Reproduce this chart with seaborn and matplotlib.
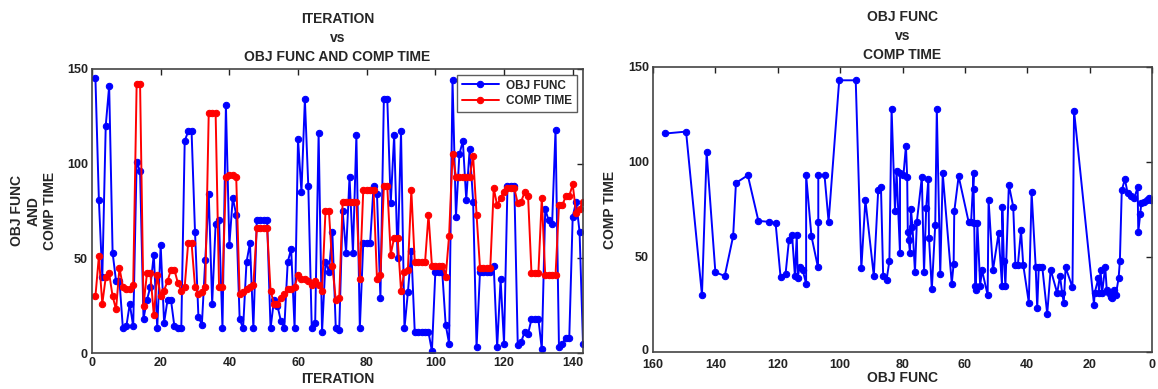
import numpy as np
import pandas as pd
import matplotlib
matplotlib.use("Agg")
import matplotlib.pyplot as plt
import matplotlib.transforms as mtransforms
import seaborn as sns

# ---------------- data ----------------
obj_func = [145, 81, 40, 120, 141, 53, 38, 38, 13, 14, 26, 14, 101, 96, 18, 28, 35, 52, 13, 57,
            16, 28, 28, 14, 13, 13, 112, 117, 117, 64, 19, 15, 49, 84, 26, 68, 70, 13, 131, 57,
            82, 73, 18, 13, 48, 58, 13, 70, 70, 70, 70, 13, 28, 25, 17, 13, 48, 55, 13, 113,
            85, 134, 88, 13, 16, 116, 11, 48, 43, 64, 13, 12, 75, 53, 93, 53, 115, 13, 58, 58,
            58, 88, 84, 29, 134, 134, 79, 115, 50, 117, 13, 32, 54, 11, 11, 11, 11, 11, 1, 43,
            43, 43, 15, 5, 144, 72, 105, 112, 81, 108, 80, 3, 43, 43, 43, 43, 46, 3, 39, 5,
            88, 88, 88, 4, 6, 11, 10, 18, 18, 18, 2, 76, 70, 68, 118, 3, 5, 8, 8, 72,
            80, 64, 5]
comp_time = [30, 51, 26, 40, 42, 30, 23, 45, 35, 34, 34, 36, 142, 142, 25, 42, 42, 20, 41, 30,
             33, 38, 44, 44, 37, 33, 35, 58, 58, 35, 31, 32, 35, 127, 127, 127, 35, 35, 93, 94,
             94, 93, 31, 32, 34, 35, 36, 66, 66, 66, 66, 33, 26, 26, 29, 31, 34, 34, 35, 41,
             39, 39, 38, 36, 38, 36, 33, 75, 75, 46, 28, 29, 80, 80, 80, 80, 80, 39, 86, 86,
             86, 86, 39, 41, 88, 88, 52, 61, 61, 33, 43, 44, 86, 48, 48, 48, 48, 73, 46, 46,
             46, 46, 40, 62, 105, 93, 93, 93, 93, 93, 104, 73, 45, 45, 45, 45, 87, 78, 82, 85,
             87, 87, 87, 79, 80, 85, 83, 42, 42, 42, 82, 41, 41, 41, 41, 78, 78, 83, 83, 89,
             74, 76, 80]
iteration = list(range(1, len(obj_func) + 1))

sorted_obj = [156, 149.4, 144.3, 142.8, 140, 137, 134.3, 133.4, 129.6, 126.2, 122.7, 120.7, 119.1,
              117.5, 116.4, 115.4, 114.5, 113.9, 113.6, 113, 112, 110.9, 110.9, 109.2, 107.1, 107,
              107, 105, 103.7, 100.3, 95, 93.2, 91.9, 89.2, 87.8, 86.9, 86.2, 85.1, 84.2, 83.5,
              82.4, 81.9, 80.8, 80.8, 79.7, 78.9, 78.5, 78.3, 78, 77.6, 77.3, 76.8, 76, 75.4,
              73.8, 73.1, 72.4, 71.7, 71.5, 70.6, 69.5, 69, 67.9, 67.1, 64.2, 63.6, 63.4, 62,
              58.8, 58, 57.2, 57.2, 57, 56.7, 56.5, 56, 55.1, 54.5, 52.7, 52.4, 51, 49.2, 48.1,
              48, 47.5, 47, 45.9, 44.5, 43.8, 43, 42, 41.3, 39.5, 38.6, 37.3, 36.8, 36.3, 35.2,
              33.6, 32.5, 30.4, 29.5, 28.8, 28.3, 27.7, 25.5, 25, 18.6, 18.4, 17.2, 17, 16.5, 16,
              15, 14.5, 13.7, 13.2, 12.7, 12.3, 11.6, 10.7, 10.3, 9.7, 8.7, 7.8, 6.8, 5.7, 4.6,
              4.4, 3.8, 3.4, 2.5, 1.7, 0.9, 0.3]
sorted_time = [115, 116, 30, 105, 42, 40, 61, 89, 93, 69, 68.5, 68, 39.5,
               41, 59, 61.5, 40, 61.5, 39, 45, 43, 36, 93, 61, 44.5, 68.5,
               93, 93, 68.5, 143, 143, 44, 80, 40, 85, 86.6, 40, 38, 48, 128,
               74, 95, 52, 94, 93, 108.5, 92, 63, 59, 52, 75.5, 66, 42, 68.5,
               92, 42, 76, 91, 60, 33, 67, 128, 41, 94, 36, 46.5, 74, 92.5,
               68.5, 68.5, 94, 86, 68, 34.6, 32.5, 68, 35, 43, 30, 80, 43, 62.4, 35,
               76.5, 48, 35, 88, 76.5, 46, 46, 64, 46, 26, 84, 45, 23, 45, 45,
               20, 43.4, 31, 40, 31, 26, 44.5, 34, 127, 25, 31, 38.7, 31, 43, 31,
               45, 32.5, 31, 29, 28.5, 32.5, 30, 39, 48, 85, 91, 83.5, 82, 81, 86.6,
               63, 72.6, 78.6, 79, 80, 81, 80]

left_title = "ITERATION\nvs\nOBJ FUNC AND COMP TIME"
right_title = "OBJ FUNC\nvs\nCOMP TIME"

# ---------------- style ----------------
sns.set_style("white")
plt.rcParams['font.family'] = ['Liberation Sans', 'DejaVu Sans']
plt.rcParams['font.weight'] = 'bold'
plt.rcParams['axes.labelweight'] = 'bold'
plt.rcParams['axes.titleweight'] = 'bold'

W, H = 1158, 389
fig = plt.figure(figsize=(W / 100, H / 100), dpi=100)
ax1 = fig.add_axes([92 / W, 1 - 353 / H, (583 - 92) / W, (353 - 69) / H])
ax2 = fig.add_axes([653 / W, 1 - 352 / H, (1152 - 653) / W, (352 - 67) / H])

blue = (0.0, 0.0, 1.0)
red = (1.0, 0.0, 0.0)
lw = 1.4
ms = 4.6

df = pd.DataFrame({"ITERATION": iteration, "OBJ FUNC": obj_func, "COMP TIME": comp_time})
sns.lineplot(data=df, x="ITERATION", y="OBJ FUNC", ax=ax1, color=blue, marker="o",
             markersize=ms, markeredgecolor=blue, linewidth=lw, label="OBJ FUNC",
             estimator=None, sort=False)
sns.lineplot(data=df, x="ITERATION", y="COMP TIME", ax=ax1, color=red, marker="o",
             markersize=ms, markeredgecolor=red, linewidth=lw, label="COMP TIME",
             estimator=None, sort=False)

df2 = pd.DataFrame({"OBJ FUNC": sorted_obj, "COMP TIME": sorted_time})
sns.lineplot(data=df2, x="OBJ FUNC", y="COMP TIME", ax=ax2, color=blue, marker="o",
             markersize=ms, markeredgecolor=blue, linewidth=lw, estimator=None, sort=False)

for ax in (ax1, ax2):
    for s in ax.spines.values():
        s.set_visible(True)
        s.set_color("#444444")
        s.set_linewidth(1.2)
    ax.tick_params(direction="in", top=True, right=True, length=4, width=1,
                   labelsize=9, colors="#222222", pad=3)
    ax.set_ylim(0, 150)
    ax.set_yticks([0, 50, 100, 150])

ax1.set_xlim(0, 143)
ax1.set_xticks([0, 20, 40, 60, 80, 100, 120, 140])
ax1.set_title(left_title, fontsize=10, fontweight="bold", pad=6, linespacing=1.45)
ax1.set_xlabel("ITERATION", fontsize=10, fontweight="bold", labelpad=2)
ax1.set_ylabel("OBJ FUNC\nAND\nCOMP TIME", fontsize=10, fontweight="bold", labelpad=7,
               linespacing=1.25)
leg = ax1.legend(loc="upper right", fontsize=8.5, frameon=True, fancybox=False,
                 edgecolor="#333333", borderaxespad=0.5, handlelength=3.2,
                 handletextpad=0.6, borderpad=0.4, labelspacing=0.3)
leg.get_frame().set_linewidth(1.0)
for t in leg.get_texts():
    t.set_fontweight("bold")

ax2.set_xlim(160, 0)
ax2.set_xticks([160, 140, 120, 100, 80, 60, 40, 20, 0])
ax2.tick_params(axis="x", pad=5)
ax2.set_title(right_title, fontsize=10, fontweight="bold", pad=6, linespacing=1.45)
ax2.set_xlabel("OBJ FUNC", fontsize=10, fontweight="bold", labelpad=0)
ax2.set_ylabel("COMP TIME", fontsize=10, fontweight="bold", labelpad=8)
for lab in ax1.get_xticklabels() + ax1.get_yticklabels() + ax2.get_xticklabels() + ax2.get_yticklabels():
    lab.set_fontweight("bold")

# nudge the right panel's "0" y-tick label up slightly so it sits above "160"
ylabs = ax2.get_yticklabels()
if ylabs:
    ylabs[0].set_transform(ylabs[0].get_transform() +
                           mtransforms.ScaledTranslation(0, 3 / 100, fig.dpi_scale_trans))

fig.savefig("out.png", dpi=100, facecolor="white")
